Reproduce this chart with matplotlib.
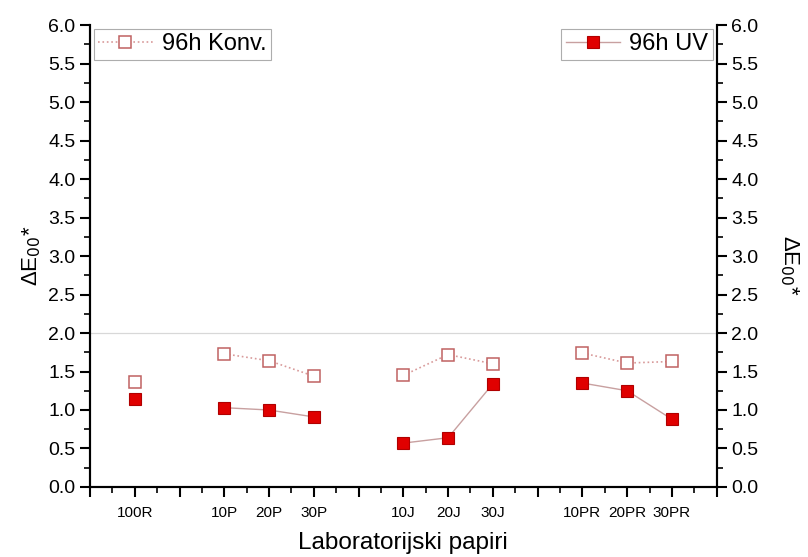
import numpy as np
import matplotlib
matplotlib.use("Agg")
import matplotlib.pyplot as plt
from matplotlib.ticker import MultipleLocator

plt.rcParams['font.family'] = ['Liberation Sans', 'DejaVu Sans']

labels = ['100R', '10P', '20P', '30P', '10J', '20J', '30J', '10PR', '20PR', '30PR']
positions = [1, 3, 4, 5, 7, 8, 9, 11, 12, 13]
groups = [[0], [1, 2, 3], [4, 5, 6], [7, 8, 9]]

konv = [1.36, 1.73, 1.64, 1.44, 1.45, 1.72, 1.60, 1.74, 1.61, 1.63]
uv = [1.14, 1.03, 1.00, 0.91, 0.57, 0.64, 1.34, 1.35, 1.25, 0.88]

fig = plt.figure(figsize=(8.08, 5.57), dpi=100)
ax = fig.add_axes([0.1114, 0.1257, 0.7756, 0.8293])
ax2 = ax.twinx()

ax.axhline(2.0, color='#d8d8d8', lw=0.9, zorder=0)

x = np.array(positions, dtype=float)
k = np.array(konv)
u = np.array(uv)
for i, g in enumerate(groups):
    ax.plot(x[g], k[g], ls=':', color='#d89a9a', lw=1.2, marker='s', ms=8,
            mfc='white', mec='#c06262', mew=1.1,
            label='96h Konv.' if i == 0 else None)
    ax2.plot(x[g], u[g], ls='-', color='#c8a0a0', lw=1.0, marker='s', ms=8,
             mfc='#e00000', mec='#b00000', mew=0.8,
             label='96h UV' if i == 0 else None)

for a in (ax, ax2):
    a.set_ylim(0, 6)
    a.set_xlim(0, 14)
    a.yaxis.set_major_locator(MultipleLocator(0.5))
    a.yaxis.set_minor_locator(MultipleLocator(0.25))
    a.spines['top'].set_visible(False)
    for s in ('left', 'right', 'bottom'):
        a.spines[s].set_linewidth(1.5)
    a.tick_params(axis='y', which='major', length=7, width=1.5, labelsize=14, direction='out')
    a.tick_params(axis='y', which='minor', length=4, width=1.2, direction='out')

ticks = list(range(0, 15))
ax.set_xticks(ticks)
ax.set_xticklabels([labels[positions.index(t)] if t in positions else '' for t in ticks])
ax.xaxis.set_minor_locator(MultipleLocator(0.5))
ax.tick_params(axis='x', which='major', length=7, width=1.5, labelsize=11, pad=7)
ax.tick_params(axis='x', which='minor', length=4, width=1.2)

ax.set_ylabel('ΔE$_{00}$*', fontsize=16, labelpad=4)
ax2.set_ylabel('ΔE$_{00}$*', fontsize=16, rotation=270, labelpad=30)
ax2.yaxis.label.set_y(0.48)
ax.set_xlabel('Laboratorijski papiri', fontsize=17.5, labelpad=8)

leg1 = ax.legend(loc='upper left', fontsize=17, fancybox=False, edgecolor='#999999',
                 borderaxespad=0.15, handlelength=2.3, handletextpad=0.4, borderpad=0.2)
leg1.get_frame().set_linewidth(0.8)
leg2 = ax2.legend(loc='upper right', fontsize=17, fancybox=False, edgecolor='#999999',
                  borderaxespad=0.15, handlelength=2.3, handletextpad=0.4, borderpad=0.2)
leg2.get_frame().set_linewidth(0.8)

fig.savefig('out.png', dpi=100)
